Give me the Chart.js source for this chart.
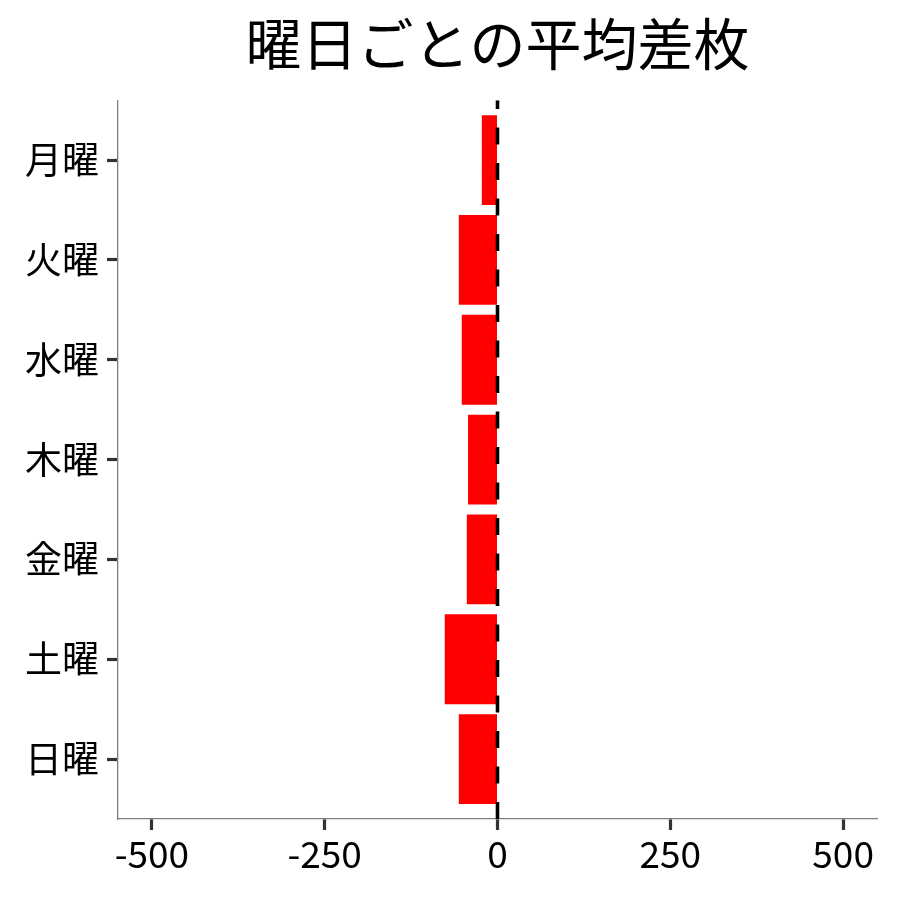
<!DOCTYPE html>
<html>
<head>
<meta charset="utf-8">
<script src="https://cdn.jsdelivr.net/npm/chart.js@4"></script>
<style>
  html, body { margin: 0; padding: 0; background: #fff; }
  #wrap { width: 900px; height: 900px; }
</style>
</head>
<body>
<div id="wrap"><canvas id="chart" width="900" height="900"></canvas></div>
<script>
// ---------- data ----------
const days = ["月曜", "火曜", "水曜", "木曜", "金曜", "土曜", "日曜"];
const avgDiff = [-22.7, -56, -51.7, -42.6, -44.4, -76.3, -56];
const xTicks = [-500, -250, 0, 250, 500];
const xMin = -549;
const xMax = 549;
const refValue = 0;

const FONT = "'Noto Sans CJK JP', 'Noto Sans', sans-serif";

// dashed vertical line at refValue, drawn bottom -> top like ggplot
const refLine = {
  id: "refLine",
  afterDatasetsDraw(chart) {
    const { ctx, chartArea, scales } = chart;
    const x = scales.x.getPixelForValue(refValue);
    ctx.save();
    ctx.beginPath();
    ctx.rect(chartArea.left, chartArea.top, chartArea.right - chartArea.left, chartArea.bottom - chartArea.top);
    ctx.clip();
    ctx.strokeStyle = "#000";
    ctx.lineWidth = 3.6;
    ctx.setLineDash([17, 18.5]);
    ctx.beginPath();
    ctx.moveTo(x, chartArea.bottom);
    ctx.lineTo(x, chartArea.top);
    ctx.stroke();
    ctx.restore();
  }
};

new Chart(document.getElementById("chart"), {
  type: "bar",
  data: {
    datasets: [{
      data: days.map((d, i) => ({ x: avgDiff[i], y: i + 1 })),
      backgroundColor: "#ff0000",
      borderWidth: 0,
      barPercentage: 0.9,
      categoryPercentage: 1.0
    }]
  },
  options: {
    indexAxis: "y",
    responsive: false,
    animation: false,
    devicePixelRatio: 1,
    layout: { padding: { left: 0, right: 23, top: 0, bottom: 0 } },
    plugins: {
      legend: { display: false },
      tooltip: { enabled: false },
      title: {
        display: true,
        text: "曜日ごとの平均差枚",
        fullSize: false,
        color: "#000",
        font: { family: FONT, size: 56, weight: "normal" },
        padding: { top: 10, bottom: 23 }
      }
    },
    scales: {
      x: {
        type: "linear",
        min: xMin,
        max: xMax,
        offset: false,
        afterBuildTicks: s => { s.ticks = xTicks.map(v => ({ value: v })); },
        afterFit: s => { s.height = 81; },
        ticks: {
          color: "#000",
          font: { family: FONT, size: 37 },
          padding: 2,
          maxRotation: 0,
          autoSkip: false,
          callback: v => String(v)
        },
        grid: {
          display: true,
          offset: false,
          drawOnChartArea: false,
          drawTicks: true,
          tickLength: 11,
          tickColor: "#333",
          tickWidth: 3.2
        },
        border: { display: true, color: "#7f7f7f", width: 1.3 }
      },
      y: {
        type: "linear",
        min: 0.4,
        max: 7.6,
        reverse: true,
        offset: false,
        afterBuildTicks: s => { s.ticks = days.map((d, i) => ({ value: i + 1 })); },
        afterFit: s => { s.width = 118; },
        ticks: {
          color: "#000",
          font: { family: FONT, size: 37 },
          padding: 8,
          autoSkip: false,
          callback: v => days[v - 1] || ""
        },
        grid: {
          display: true,
          offset: false,
          drawOnChartArea: false,
          drawTicks: true,
          tickLength: 11,
          tickColor: "#333",
          tickWidth: 3.2
        },
        border: { display: true, color: "#7f7f7f", width: 1.3 }
      }
    }
  },
  plugins: [refLine]
});
</script>
</body>
</html>
